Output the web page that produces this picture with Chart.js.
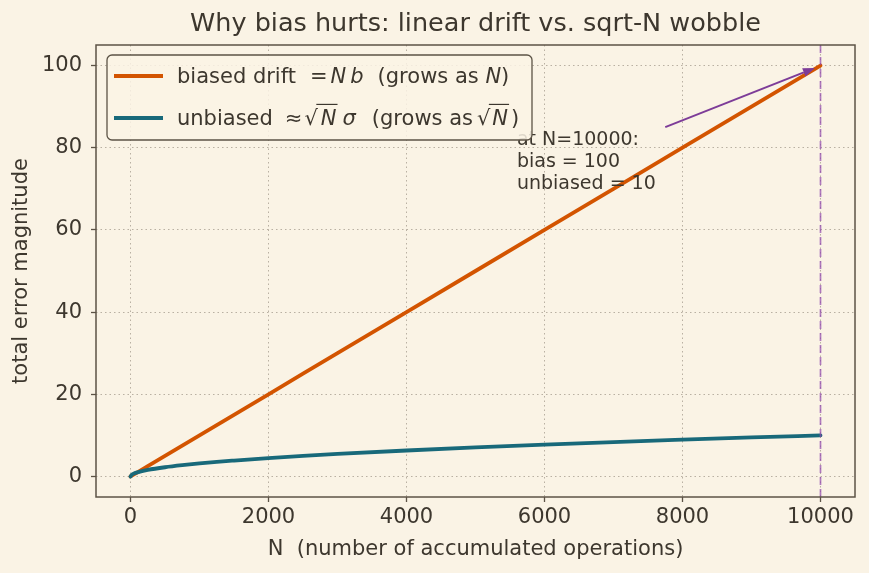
<!DOCTYPE html>
<html>
<head>
<meta charset="utf-8">
<script src="https://cdn.jsdelivr.net/npm/chart.js@4.4.1/dist/chart.umd.min.js"></script>
<style>
  html, body { margin: 0; padding: 0; background: #faf3e5; }
  canvas { display: block; }
</style>
</head>
<body>
<canvas id="chart" width="869" height="573"></canvas>
<script>
// values
var nPoints        = [0, 25, 50, 100, 250, 500, 750, 1000, 1250, 1500, 1750, 2000, 2500, 3000, 4000, 5000, 6000, 7000, 8000, 9000, 10000];
var biasedDrift    = [0, 0.25, 0.5, 1, 2.5, 5, 7.5, 10, 12.5, 15, 17.5, 20, 25, 30, 40, 50, 60, 70, 80, 90, 100];
var unbiasedWobble = [0, 0.5, 0.71, 1.0, 1.58, 2.24, 2.74, 3.16, 3.54, 3.87, 4.18, 4.47, 5.0, 5.48, 6.32, 7.07, 7.75, 8.37, 8.94, 9.49, 10];
var xTicks = [0, 2000, 4000, 6000, 8000, 10000];
var yTicks = [0, 20, 40, 60, 80, 100];

var markerN = 10000;
var arrowTail = { x: 7750, y: 85 };
var arrowTip = { x: 9920, y: 99.4 };
var noteAnchor = { x: 5600, y: 70 };
var noteLines = ['at N=10000:', 'bias = 100', 'unbiased = 10'];

var titleText = 'Why bias hurts: linear drift vs. sqrt-N wobble';
var xTitle = 'N  (number of accumulated operations)';
var yTitle = 'total error magnitude';

var BG = '#faf3e5';
var INK = '#3d372e';
var SPINE = '#5c5346';
var ORANGE = '#d35400';
var TEAL = '#18697a';
var PURPLE = '#7d3c98';
var FONT = '"DejaVu Sans", sans-serif';

function pairs(xs, ys) {
  return xs.map(function(x, i) { return { x: x, y: ys[i] }; });
}

// legend rows: text runs (it = italic, over = overline for the root)
var legendRows = [
  { color: ORANGE, runs: [
    { t: 'biased drift' }, { g: 14 }, { t: '=' }, { g: 3 }, { t: 'N', it: true }, { g: 4 },
    { t: 'b', it: true }, { g: 14 }, { t: '(grows as ' }, { t: 'N', it: true }, { t: ')' }
  ]},
  { color: TEAL, runs: [
    { t: 'unbiased' }, { g: 12 }, { t: '\u2248' }, { g: 2 }, { t: '\u221a' }, { g: 3 },
    { t: 'N', it: true, over: true }, { g: 6 }, { t: '\u03c3', it: true }, { g: 16 },
    { t: '(grows as' }, { g: 4 }, { t: '\u221a' }, { g: 2 }, { t: 'N', it: true, over: true }, { g: 3 }, { t: ')' }
  ]}
];

function drawRuns(ctx, runs, x, y, size) {
  var rootStart = x;
  runs.forEach(function(r) {
    if (r.g) { x += r.g; return; }
    ctx.font = (r.it ? 'italic ' : '') + size + 'px ' + FONT;
    var w = ctx.measureText(r.t).width;
    if (r.t === '\u221a') rootStart = x + w - 1.5;
    ctx.fillText(r.t, x, y);
    if (r.over) {
      ctx.save();
      ctx.strokeStyle = INK;
      ctx.lineWidth = 1.2;
      ctx.beginPath();
      ctx.moveTo(rootStart, y - size * 0.98);
      ctx.lineTo(x + w + 1, y - size * 0.98);
      ctx.stroke();
      ctx.restore();
    }
    x += w;
  });
}

var decorations = {
  id: 'decorations',
  beforeDraw: function(c) {
    var ctx = c.ctx;
    ctx.save();
    ctx.fillStyle = BG;
    ctx.fillRect(0, 0, c.width, c.height);
    ctx.restore();
  },
  afterDatasetsDraw: function(c) {
    var ctx = c.ctx, a = c.chartArea;
    var xs = c.scales.x, ys = c.scales.y;
    ctx.save();

    // vertical marker
    var mx = xs.getPixelForValue(markerN);
    ctx.strokeStyle = 'rgba(142, 68, 173, 0.7)';
    ctx.lineWidth = 1.7;
    ctx.setLineDash([8, 4]);
    ctx.beginPath();
    ctx.moveTo(mx, a.top);
    ctx.lineTo(mx, a.bottom);
    ctx.stroke();
    ctx.setLineDash([]);

    // note text
    ctx.fillStyle = INK;
    ctx.font = '19px ' + FONT;
    ctx.textBaseline = 'alphabetic';
    ctx.textAlign = 'left';
    var nx = xs.getPixelForValue(noteAnchor.x);
    var ny = ys.getPixelForValue(noteAnchor.y);
    for (var i = 0; i < noteLines.length; i++) {
      ctx.fillText(noteLines[i], nx, ny - (noteLines.length - 1 - i) * 22);
    }

    // arrow
    var x1 = xs.getPixelForValue(arrowTail.x), y1 = ys.getPixelForValue(arrowTail.y);
    var x2 = xs.getPixelForValue(arrowTip.x), y2 = ys.getPixelForValue(arrowTip.y);
    var ang = Math.atan2(y2 - y1, x2 - x1);
    var hl = 12, hw = 4.5;
    var bx = x2 - hl * Math.cos(ang), by = y2 - hl * Math.sin(ang);
    ctx.strokeStyle = PURPLE;
    ctx.fillStyle = PURPLE;
    ctx.lineWidth = 2;
    ctx.beginPath();
    ctx.moveTo(x1, y1);
    ctx.lineTo(bx, by);
    ctx.stroke();
    ctx.beginPath();
    ctx.moveTo(x2, y2);
    ctx.lineTo(bx + hw * Math.sin(ang), by - hw * Math.cos(ang));
    ctx.lineTo(bx - hw * Math.sin(ang), by + hw * Math.cos(ang));
    ctx.closePath();
    ctx.fill();
    ctx.restore();
  },
  afterDraw: function(c) {
    var ctx = c.ctx, a = c.chartArea;
    ctx.save();

    // frame
    ctx.strokeStyle = SPINE;
    ctx.lineWidth = 1.5;
    ctx.strokeRect(a.left, a.top, a.right - a.left, a.bottom - a.top);

    // title
    ctx.fillStyle = INK;
    ctx.font = '25.5px ' + FONT;
    ctx.textAlign = 'center';
    ctx.textBaseline = 'middle';
    ctx.fillText(titleText, (a.left + a.right) / 2, 24);

    // legend
    var lx = a.left + 11, ly = a.top + 10, lw = 425, lh = 85;
    ctx.beginPath();
    ctx.roundRect(lx, ly, lw, lh, 5);
    ctx.fillStyle = 'rgba(250, 243, 229, 0.85)';
    ctx.fill();
    ctx.strokeStyle = SPINE;
    ctx.lineWidth = 1.3;
    ctx.stroke();

    ctx.textAlign = 'left';
    ctx.textBaseline = 'alphabetic';
    legendRows.forEach(function(row, i) {
      var cy = ly + 21 + i * 42;
      ctx.strokeStyle = row.color;
      ctx.lineWidth = 3.8;
      ctx.beginPath();
      ctx.moveTo(lx + 7, cy);
      ctx.lineTo(lx + 56, cy);
      ctx.stroke();
      ctx.fillStyle = INK;
      drawRuns(ctx, row.runs, lx + 70, cy + 7, 21);
    });
    ctx.restore();
  }
};

var gridOpts = {
  color: 'rgba(120, 110, 95, 0.5)',
  lineWidth: 1,
  tickColor: SPINE,
  tickLength: 5,
  tickWidth: 1.3
};

new Chart(document.getElementById('chart'), {
  type: 'line',
  data: {
    datasets: [
      {
        label: 'unbiased',
        data: pairs(nPoints, unbiasedWobble),
        borderColor: TEAL,
        borderWidth: 3.8,
        pointRadius: 0,
        cubicInterpolationMode: 'monotone',
        borderCapStyle: 'round',
        borderJoinStyle: 'round',
        fill: false,
        order: 0
      },
      {
        label: 'biased drift',
        data: pairs(nPoints, biasedDrift),
        borderColor: ORANGE,
        borderWidth: 3.8,
        pointRadius: 0,
        tension: 0,
        borderCapStyle: 'round',
        fill: false,
        order: 1
      }
    ]
  },
  options: {
    responsive: false,
    animation: false,
    layout: { padding: { top: 45, right: 14, left: 0, bottom: 0 } },
    plugins: {
      legend: { display: false },
      title: { display: false },
      tooltip: { enabled: false }
    },
    scales: {
      x: {
        type: 'linear',
        min: -500,
        max: 10500,
        afterFit: function(s) { s.height = 76; },
        afterBuildTicks: function(s) { s.ticks = xTicks.map(function(v) { return { value: v }; }); },
        ticks: {
          color: INK,
          font: { family: FONT, size: 21 },
          padding: 3,
          maxRotation: 0,
          callback: function(v) { return String(v); }
        },
        grid: gridOpts,
        border: { display: false, dash: [1.5, 3] },
        title: {
          display: true,
          text: xTitle,
          color: INK,
          font: { family: FONT, size: 21 },
          padding: { top: 0, bottom: 11 }
        }
      },
      y: {
        type: 'linear',
        min: -5,
        max: 105,
        afterFit: function(s) { s.width = 96; },
        afterBuildTicks: function(s) { s.ticks = yTicks.map(function(v) { return { value: v }; }); },
        ticks: {
          color: INK,
          font: { family: FONT, size: 21 },
          padding: 9,
          callback: function(v) { return String(v); }
        },
        grid: gridOpts,
        border: { display: false, dash: [1.5, 3] },
        title: {
          display: true,
          text: yTitle,
          color: INK,
          font: { family: FONT, size: 21 },
          padding: { top: 9, bottom: 0 }
        }
      }
    }
  },
  plugins: [decorations]
});
</script>
</body>
</html>
